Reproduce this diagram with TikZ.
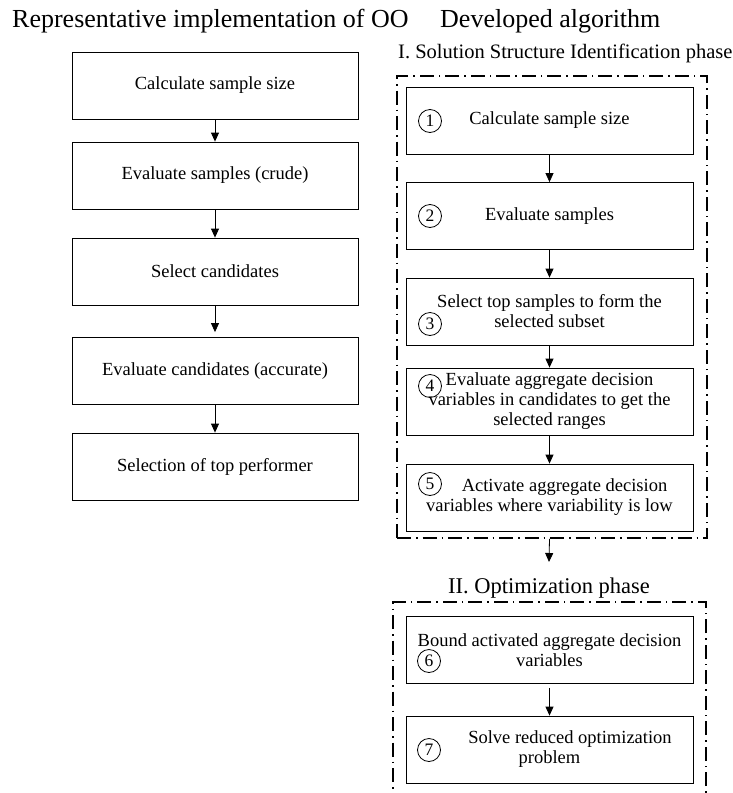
\documentclass[tikz,border=0pt]{standalone}
\usepackage{fontspec}
\setmainfont{Liberation Serif}
\usetikzlibrary{arrows.meta}
\begin{document}
\begin{tikzpicture}[x=1pt,y=-1pt,
  box/.style={draw, line width=0.8pt, inner sep=0pt, align=center,
    font=\fontsize{18.5}{20}\selectfont},
  lbox/.style={box, minimum width=286pt, minimum height=67pt},
  rbox/.style={box, minimum width=287pt, minimum height=67pt},
  num/.style={draw, circle, line width=0.8pt, minimum size=23pt, inner sep=0pt,
    font=\fontsize{17.5}{18}\selectfont},
  frm/.style={draw, line width=1.6pt, dash pattern=on 14pt off 5pt on 1.5pt off 5pt, inner sep=0pt},
  arr/.style={-{Triangle[length=9pt,width=8pt]}, line width=0.8pt},
  ttl/.style={inner sep=0pt, font=\fontsize{26}{28}\selectfont},
]
\useasboundingbox (0,0) rectangle (733,793);
\clip (0,0) rectangle (733,793);

% titles
\node[ttl, anchor=base west] (t1) at (12,27) {Representative implementation of OO};
\node[ttl, anchor=base west] (t2) at (440,27) {Developed algorithm};

% left column
\node[lbox] (L1) at (215,85.5) {Calculate sample size};
\node[lbox] (L2) at (215,175.5) {Evaluate samples (crude)};
\node[lbox] (L3) at (215,271.5) {Select candidates};
\node[lbox] (L4) at (215,371) {Evaluate candidates (accurate)};
\node[lbox] (L5) at (215,466.5) {Selection of top performer};
\draw[arr] (L1) -- (L2);
\draw[arr] (L2) -- (L3);
\draw[arr, shorten >=5pt] (L3) -- (L4);
\draw[arr] (L4) -- (L5);

% phase I
\node[inner sep=0pt, anchor=base west, font=\fontsize{20.5}{22}\selectfont] (p1) at (398,58) {I. Solution Structure Identification phase};
\node[frm, minimum width=310pt, minimum height=462pt] (f1) at (552,307) {};

\node[rbox] (R1) at (549.5,120.5) {Calculate sample size};
\node[rbox] (R2) at (549.5,216) {Evaluate samples};
\node[rbox] (R3) at (549.5,311.5) {Select top samples to form the\\selected subset};
\node[rbox] (R4) at (549.5,401.5) {Evaluate aggregate decision\\variables in candidates to get the\\selected ranges};
\node[rbox] (R5) at (549.5,497.5) {\hspace*{30pt}Activate aggregate decision\\variables where variability is low};
\node[num] (n1) at (430,121) {1};
\node[num] (n2) at (430,216) {2};
\node[num] (n3) at (430,324) {3};
\node[num] (n4) at (430,386) {4};
\node[num] (n5) at (430,484) {5};
\draw[arr] (R1) -- (R2);
\draw[arr] (R2) -- (R3);
\draw[arr] (R3) -- (R4);
\draw[arr] (R4) -- (R5);

% link to phase II
\coordinate (c1) at (R5.south |- f1.south);
\coordinate (c2) at (549,562);
\draw[arr] (c1) -- (c2);

% phase II
\node[inner sep=0pt, anchor=base, font=\fontsize{22.5}{24}\selectfont] (p2) at (549,593) {II. Optimization phase};
\node[frm, minimum width=313pt, minimum height=228pt] (f2) at (549.5,716) {};
\node[rbox] (R6) at (549.5,650) {Bound activated aggregate decision\\variables};
\node[rbox] (R7) at (549.5,749.5) {\hspace*{41pt}Solve reduced optimization\\problem};
\node[num] (n6) at (429,661) {6};
\node[num] (n7) at (429,750) {7};
\draw[arr, shorten <=4pt] (R6) -- (R7);
\end{tikzpicture}
\end{document}
